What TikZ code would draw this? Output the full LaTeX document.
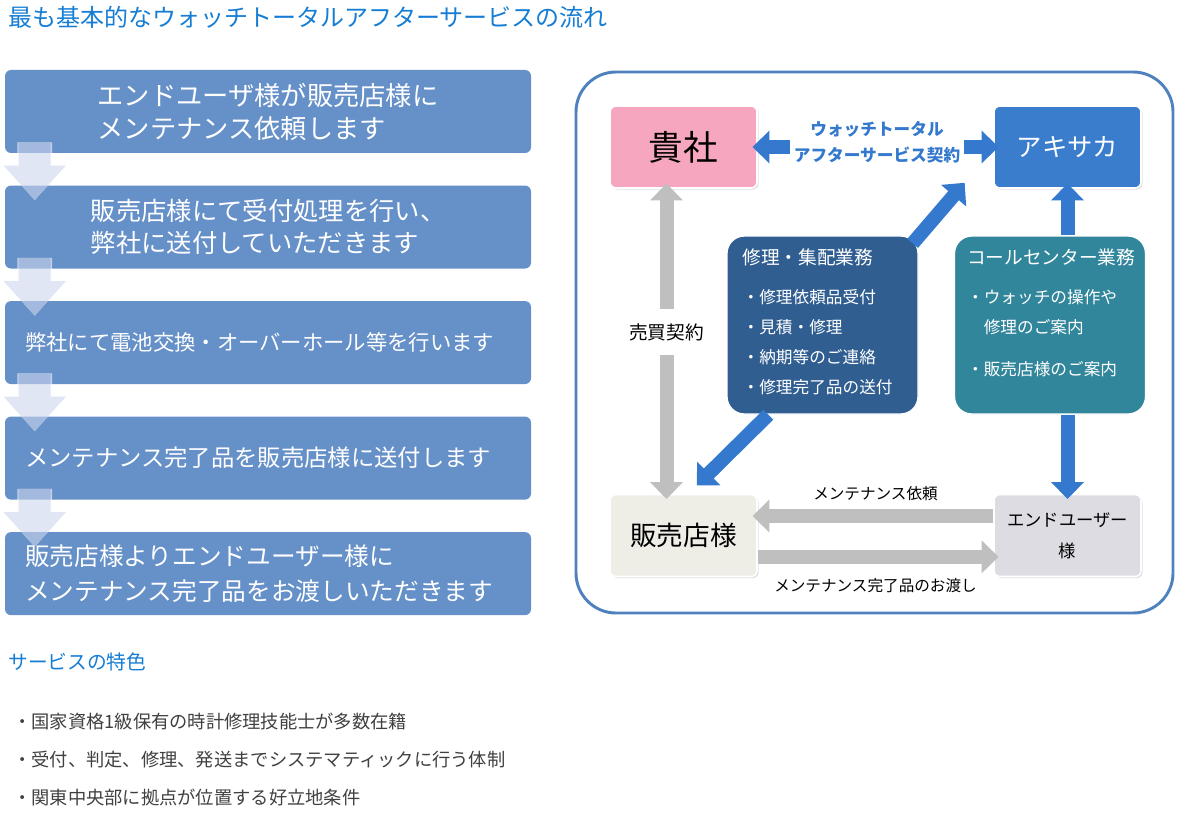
\documentclass[tikz,border=0pt]{standalone}
\usepackage{fontspec}
\setmainfont{Noto Sans CJK JP}
\usetikzlibrary{arrows.meta, positioning, calc, shadows}

\definecolor{titleblue}{RGB}{21,125,212}
\definecolor{stepblue}{RGB}{102,144,200}
\definecolor{flowlav}{RGB}{205,214,238}
\definecolor{panelblue}{RGB}{79,129,189}
\definecolor{kishapink}{RGB}{246,167,191}
\definecolor{akiblue}{RGB}{58,125,205}
\definecolor{repairblue}{RGB}{48,94,145}
\definecolor{callteal}{RGB}{49,134,155}
\definecolor{shopgray}{RGB}{238,237,230}
\definecolor{usergray}{RGB}{221,220,226}
\definecolor{arrowblue}{RGB}{52,121,206}
\definecolor{arrowgray}{RGB}{191,191,191}
\definecolor{bodygray}{RGB}{64,64,64}

\tikzset{
    heading/.style = {anchor=west, inner sep=0pt, text=titleblue},
    stepbox/.style = {rectangle, rounded corners=4.5pt, fill=stepblue, text=white, minimum width=394.5pt, minimum height=62.25pt, inner sep=0pt, align=left},
    stepwide/.style = {stepbox, inner xsep=15pt, text width=364.5pt},
    flowarrow/.style = {draw=flowlav, line width=24pt, -{Triangle[width=45pt, length=26pt]},
        preaction={draw=white!96!flowlav, line width=26pt, -{Triangle[width=48.5pt, length=28pt]}}},
    panelframe/.style = {draw=panelblue, line width=2.2pt, rounded corners=30pt},
    card/.style = {rectangle, rounded corners=4.5pt, draw=white, line width=1.2pt, minimum width=110.25pt, minimum height=61.5pt, inner sep=0pt, drop shadow={shadow xshift=1.2pt, shadow yshift=-1.2pt, opacity=0.25}},
    taskbox/.style = {rectangle, rounded corners=13pt, draw=white, line width=1pt, minimum width=143.25pt, minimum height=133.5pt},
    tasktext/.style = {anchor=north west, inner sep=0pt, text=white, align=left, font=\fontsize{12.5}{22.5}\selectfont},
    bluearrow/.style = {draw=arrowblue, line width=10.5pt, shorten >=-4pt, -{Triangle[width=24pt, length=12.75pt]}},
    grayarrow/.style = {draw=arrowgray, line width=10.5pt, shorten >=-4pt, -{Triangle[width=24pt, length=12.75pt]}},
    arrowlabel/.style = {inner sep=0pt, font=\fontsize{11.7}{14}\selectfont},
    bulletline/.style = {anchor=west, inner sep=0pt, text=bodygray, font=\fontsize{13.7}{16}\selectfont}
}

\begin{document}
\begin{tikzpicture}[x=0.75pt, y=-0.75pt, node distance=24pt]
    \useasboundingbox (0,0) rectangle (1180,820);

    % TITLE
    \node (title) [heading, font=\fontsize{18}{20}\selectfont] at (8,17) {最も基本的なウォッチトータルアフターサービスの流れ};

    % FLOW STEPS (left column)
    \node (s1) [stepbox, font=\fontsize{19.7}{24.75}\selectfont] at (268,111.5) {エンドユーザ様が販売店様に\\メンテナンス依頼します};
    \node (s2) [stepbox, below=of s1, font=\fontsize{19}{24}\selectfont] {販売店様にて受付処理を行い、\\弊社に送付していただきます};
    \node (s3) [stepwide, below=of s2, font=\fontsize{16}{20}\selectfont] {弊社にて電池交換・オーバーホール等を行います};
    \node (s4) [stepwide, below=of s3, font=\fontsize{17.5}{20}\selectfont] {メンテナンス完了品を販売店様に送付します};
    \node (s5) [stepwide, below=of s4, font=\fontsize{18.5}{26}\selectfont] {販売店様よりエンドユーザー様に\\メンテナンス完了品をお渡しいただきます};

    % step arrows
    \begin{scope}[transparency group, opacity=0.6]
    \draw [flowarrow] ($(s1.south west)+(30,-11)$) -- ($(s2.north west)+(30,15)$);
    \draw [flowarrow] ($(s2.south west)+(30,-11)$) -- ($(s3.north west)+(30,15)$);
    \draw [flowarrow] ($(s3.south west)+(30,-11)$) -- ($(s4.north west)+(30,15)$);
    \draw [flowarrow] ($(s4.south west)+(30,-11)$) -- ($(s5.north west)+(30,15)$);
    \end{scope}

    % SERVICE PANEL (right)
    \draw [panelframe] (576,72) rectangle (1173,613);

    \node (kisha) [card, fill=kishapink, font=\fontsize{26}{30}\selectfont] at (683.5,147) {貴社};
    \node (akisaka) [card, fill=akiblue, text=white, font=\fontsize{19}{22}\selectfont] at (1067.5,147) {アキサカ};
    \node (shop) [card, fill=shopgray, font=\fontsize{20}{24}\selectfont] at (683.5,535.5) {販売店様};
    \node (enduser) [card, fill=usergray, align=center, font=\fontsize{13}{23}\selectfont] at (1067.5,535.5) {エンドユーザー\\様};

    \node (contract) [text=arrowblue, align=center, inner sep=3pt, font=\bfseries\fontsize{12.5}{19.5}\selectfont] at (877,142) {ウォッチトータル\\アフターサービス契約};

    % task boxes
    \node (repair) [taskbox, fill=repairblue] at (822.5,325) {};
    \node (callcenter) [taskbox, fill=callteal] at (1050,325) {};
    \node (repairtxt) [tasktext] at ($(repair.north west)+(16,13)$) {{\fontsize{14}{22.5}\selectfont 修理・集配業務}\\[7pt]・修理依頼品受付\\・見積・修理\\・納期等のご連絡\\・修理完了品の送付};
    \node (calltxt) [tasktext] at ($(callcenter.north west)+(13,13)$) {{\fontsize{14}{22.5}\selectfont コールセンター業務}\\[7pt]・ウォッチの操作や\\\hspace*{1em}修理のご案内\\[9pt]・販売店様のご案内};

    % CONTRACT ARROWS
    \draw [bluearrow] (contract.west |- kisha.east) -- (kisha.east);
    \draw [bluearrow] (contract.east |- akisaka.west) -- (akisaka.west);

    % TASK ARROWS
    \draw [bluearrow] ([shift={(-6,8)}]repair.north east) -- ([shift={(-32,-2)}]akisaka.south west);
    \draw [bluearrow] ([shift={(42,0)}]repair.south west) -- ([shift={(17,-12)}]shop.north);
    \draw [bluearrow] (callcenter.north -| akisaka.south) -- (akisaka.south);
    \draw [bluearrow] (callcenter.south -| enduser.north) -- (enduser.north);

    % SALES CONTRACT
    \draw [grayarrow, shorten <=-4pt, {Triangle[width=24pt, length=12.75pt]}-{Triangle[width=24pt, length=12.75pt]}] ([xshift=-12.75pt]kisha.south) -- ([xshift=-12.75pt]shop.north)
        node (deal) [pos=0.47, fill=white, inner xsep=2pt, inner ysep=11pt, font=\fontsize{14}{16}\selectfont] {売買契約};

    % MAINTENANCE FLOW
    \draw [grayarrow] ([yshift=14.6pt]enduser.west) -- ([yshift=14.6pt]shop.east)
        node (request) [arrowlabel, midway, above=6pt] {メンテナンス依頼};
    \draw [grayarrow] ([yshift=-16pt]shop.east) -- ([yshift=-16pt]enduser.west)
        node (handover) [arrowlabel, midway, below=11pt] {メンテナンス完了品のお渡し};

    % FEATURES
    \node (feat) [heading, font=\fontsize{14.8}{18}\selectfont] at (8,662) {サービスの特色};
    \node (f1) [bulletline] at (13,722) {・国家資格1級保有の時計修理技能士が多数在籍};
    \node (f2) [bulletline] at (13,760) {・受付、判定、修理、発送までシステマティックに行う体制};
    \node (f3) [bulletline] at (13,798) {・関東中央部に拠点が位置する好立地条件};
\end{tikzpicture}
\end{document}
